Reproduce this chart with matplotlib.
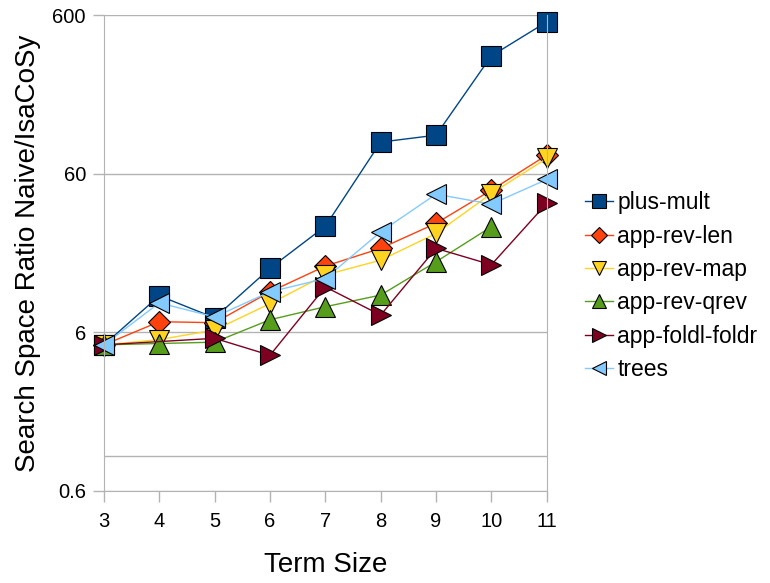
import numpy as np
import matplotlib.pyplot as plt

plt.rcParams['font.family'] = ['Liberation Sans', 'DejaVu Sans']

term_size = np.array([3, 4, 5, 6, 7, 8, 9, 10, 11])

# values; nan = no point drawn
plus_mult = [5.0, 10.2, 7.4, 15.2, 28.0, 95.0, 105.0, 332.0, 544.0]
app_rev_len = [5.0, 7.0, 6.9, 10.8, 15.7, 20.3, 29.2, 47.3, 78.6]
app_rev_map = [5.0, 5.4, 6.2, 9.1, 13.8, 17.1, 25.2, 45.0, 75.0]
app_rev_qrev = [5.0, 5.1, 5.2, 7.2, 8.7, 10.3, 16.7, 27.8, np.nan]
app_foldl_foldr = [5.0, np.nan, 5.5, 4.3, 11.6, 7.7, 20.3, 16.0, 39.0]
trees = [5.0, 9.2, 7.5, 10.8, 13.1, 25.8, 44.6, 38.6, 55.2]

series = [
    ('plus-mult', plus_mult, '#004586', 's', 14),
    ('app-rev-len', app_rev_len, '#ff420e', 'D', 11),
    ('app-rev-map', app_rev_map, '#ffd320', 'v', 14),
    ('app-rev-qrev', app_rev_qrev, '#579d1c', '^', 14),
    ('app-foldl-foldr', app_foldl_foldr, '#7e0021', '>', 14),
    ('trees', trees, '#83caff', '<', 14),
]

fig = plt.figure(figsize=(7.7, 5.83), dpi=100)
ax = fig.add_axes([0.135, 0.158, 0.575, 0.816])

grid_col = '#b3b3b3'
for yv in [0.6, 1, 6, 60, 600]:
    ax.axhline(yv, color=grid_col, lw=1, zorder=0)

for name, vals, col, mk, ms in series:
    vals = np.array(vals, dtype=float)
    ok = ~np.isnan(vals)
    ax.plot(term_size[ok], vals[ok], color=col, lw=1, marker=mk, ms=ms,
            markerfacecolor=col, markeredgecolor='black', markeredgewidth=0.8,
            label=name, clip_on=False)

ax.set_yscale('log')
ax.set_ylim(0.6, 600)
ax.set_xlim(3, 11)
ax.set_yticks([0.6, 6, 60, 600])
ax.set_yticklabels(['0.6', '6', '60', '600'])
ax.minorticks_off()
ax.set_xticks(term_size)
ax.tick_params(axis='both', colors=grid_col, labelcolor='black', labelsize=14.5,
               length=8, width=1, direction='out')
ax.tick_params(axis='x', pad=7)
ax.tick_params(axis='y', pad=5)
for sp in ax.spines.values():
    sp.set_color(grid_col)
ax.spines['top'].set_visible(False)

ax.set_xlabel('Term Size', fontsize=20, labelpad=15)
ax.set_ylabel('Search Space Ratio Naive/IsaCoSy', fontsize=20, labelpad=8)

fig.legend(loc='center left', bbox_to_anchor=(0.745, 0.509),
           bbox_transform=fig.transFigure, frameon=False, borderpad=0,
           fontsize=16.5, handlelength=1.2, handletextpad=0.2,
           labelspacing=0.45, markerscale=0.75)

fig.savefig('out.png', dpi=100)
